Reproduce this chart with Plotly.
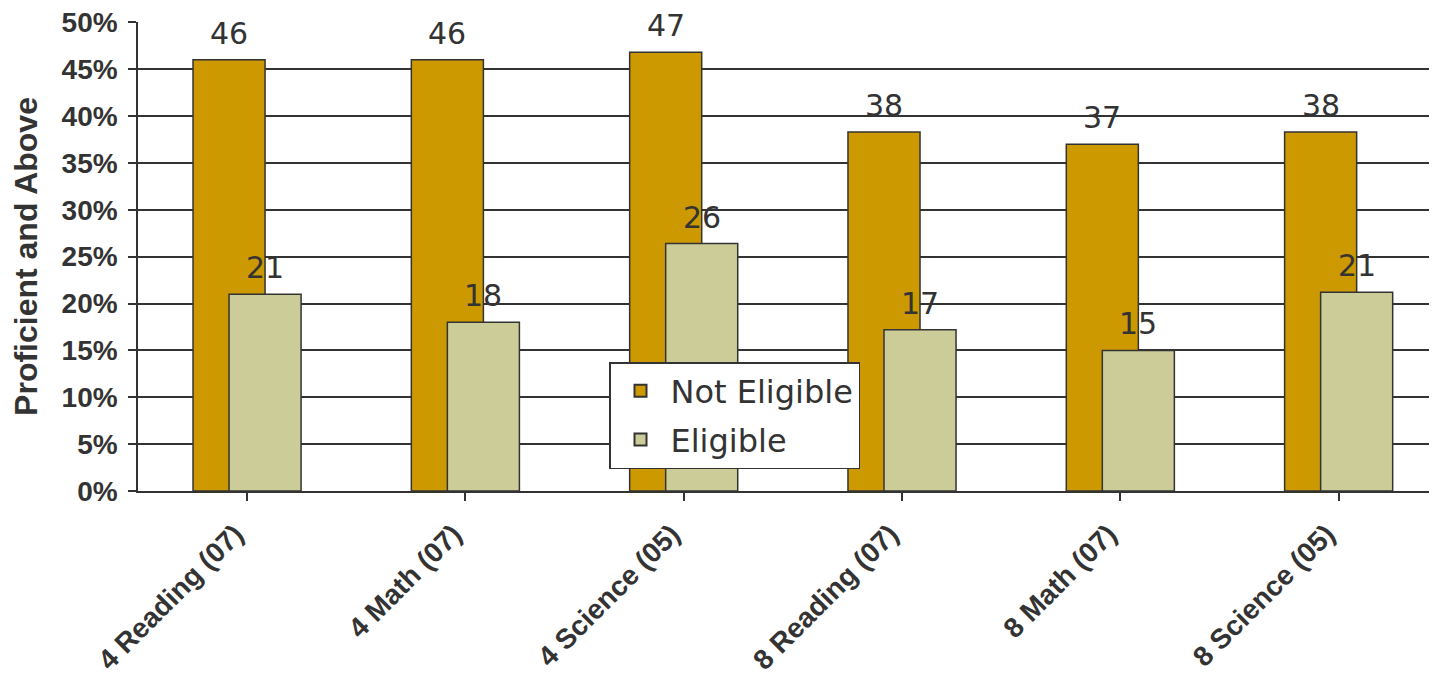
import plotly.graph_objects as go

categories = ["4 Reading (07)", "4 Math (07)", "4 Science (05)",
              "8 Reading (07)", "8 Math (07)", "8 Science (05)"]
not_eligible = [46.0, 46.0, 46.8, 38.3, 37.0, 38.3]
eligible = [21.0, 18.0, 26.4, 17.2, 15.0, 21.2]
not_eligible_labels = ["46", "46", "47", "38", "37", "38"]
eligible_labels = ["21", "18", "26", "17", "15", "21"]
y_ticks = [0, 5, 10, 15, 20, 25, 30, 35, 40, 45, 50]
y_tick_text = [f"{v}%" for v in y_ticks]

C_NE = "#CC9900"
C_E = "#CCCC99"
DARK = "#333333"
BAR_W = 0.33
OFF_NE = -0.248
OFF_E = -0.083
AX_FONT = "Liberation Sans, Arial, sans-serif"
LBL_FONT = "DejaVu Sans, sans-serif"

fig = go.Figure()
fig.add_trace(go.Bar(
    x=list(range(len(categories))), y=not_eligible, name="Not Eligible",
    width=BAR_W, offset=OFF_NE, legendgroup="ne",
    marker=dict(color=C_NE, line=dict(color=DARK, width=1.5)),
))
fig.add_trace(go.Bar(
    x=list(range(len(categories))), y=eligible, name="Eligible",
    width=BAR_W, offset=OFF_E, legendgroup="e",
    marker=dict(color=C_E, line=dict(color=DARK, width=1.5)),
))

annotations = []
for i in range(len(categories)):
    for val, lab, off in ((not_eligible[i], not_eligible_labels[i], OFF_NE),
                          (eligible[i], eligible_labels[i], OFF_E)):
        annotations.append(dict(
            x=i + off + BAR_W / 2, y=val, xref="x", yref="y",
            text=lab, showarrow=False, yanchor="bottom", xanchor="center",
            yshift=7, font=dict(family=LBL_FONT, size=30, color=DARK),
        ))

fig.update_layout(
    width=1429, height=670,
    margin=dict(l=130, r=0, t=14, b=187),
    barmode="overlay",
    plot_bgcolor="white", paper_bgcolor="white",
    font=dict(family=AX_FONT, color=DARK),
    annotations=annotations,
    legend=dict(
        x=(609 - 138) / 1299, y=(491 - 362) / 469, xanchor="left", yanchor="top",
        bgcolor="white", bordercolor=DARK, borderwidth=1.5,
        font=dict(family=LBL_FONT, size=32, color=DARK),
        itemsizing="constant", itemwidth=50, tracegroupgap=4,
    ),
    xaxis=dict(
        range=[-0.5, 5.45],
        tickmode="array", tickvals=list(range(len(categories))), ticktext=categories,
        tickangle=-45, tickson="boundaries", ticks="outside", ticklen=8,
        tickcolor=DARK, tickwidth=1.5,
        showline=True, linecolor=DARK, linewidth=1.5,
        showgrid=False, zeroline=False,
        tickfont=dict(family=AX_FONT, size=28, color=DARK, weight="bold"),
        ticklabelshift=-12, ticklabelstandoff=6,
        automargin=False,
    ),
    yaxis=dict(
        range=[0, 50.03], tickmode="array", tickvals=y_ticks, ticktext=y_tick_text,
        ticks="outside", ticklen=8, tickcolor=DARK, tickwidth=1.5,
        showline=True, linecolor=DARK, linewidth=1.5,
        showgrid=True, gridcolor=DARK, gridwidth=1.5, zeroline=False,
        tickfont=dict(family=AX_FONT, size=28, color=DARK, weight="bold"),
        ticklabeloverflow="allow", ticklabelstandoff=5,
        title=dict(text="Proficient and Above", standoff=20,
                   font=dict(family=AX_FONT, size=32, color=DARK, weight="bold")),
        automargin=False,
    ),
)

fig.write_html("out.html")
